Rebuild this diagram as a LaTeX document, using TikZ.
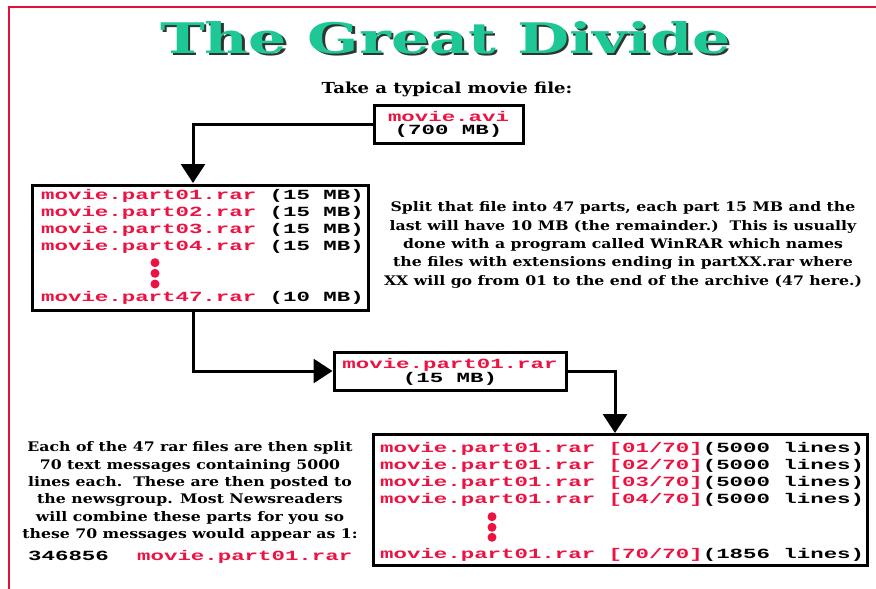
\documentclass[tikz,border=0pt]{standalone}
\usepackage{fontspec}
\usepackage{graphicx}
\usetikzlibrary{arrows.meta}
\newfontfamily\monob[UprightFont={* Bold},FakeStretch=1.6]{Liberation Mono}
\newfontfamily\serifb[UprightFont={* Bold},FakeStretch=1.19]{DejaVu Serif}
\newfontfamily\titlefont[UprightFont={* Bold}]{DejaVu Serif}
\definecolor{fred}{RGB}{236,18,66}
\definecolor{frame}{RGB}{228,16,60}
\definecolor{teal}{RGB}{30,200,150}
\definecolor{shade}{RGB}{45,55,50}
\newcommand{\titletext}{\resizebox{570pt}{32pt}{\titlefont The Great Divide}}
\tikzset{
  filebox/.style={draw=black, line width=3pt, fill=white, inner sep=0pt},
  mono/.style={font=\monob\fontsize{14}{17.3}\selectfont, inner sep=0pt},
  para/.style={font=\serifb\fontsize{13.2}{18.3}\selectfont, align=center, inner sep=0pt},
  arr/.style={line width=3pt, -{Triangle[length=19pt,width=24pt]}},
  dot/.style={circle, fill=fred, inner sep=0pt, minimum size=9pt},
}
\begin{document}
\begin{tikzpicture}[x=1pt,y=-1pt]
\useasboundingbox (0,0) rectangle (876,589);
\fill[white] (0,0) rectangle (876,589);
% red frame (top and left)
\draw[frame, line width=2pt] (9,589) -- (9,7) -- (876,7);
% title with drop shadow
\node[anchor=base west, inner sep=0pt] (title) at (160,53)
  {\rlap{\hspace{2.5pt}\raisebox{-2.5pt}{\textcolor{shade}{\titletext}}}\textcolor{teal}{\titletext}};
\node[para, anchor=base, font=\serifb\fontsize{15.2}{18}\selectfont] (take) at (447,93) {Take a typical movie file:};
% box 1
\node[filebox, minimum width=149pt, minimum height=38pt] (b1) at (448.5,124) {};
\node[mono, anchor=base, text=fred] (b1a) at (448.5,121) {movie.avi};
\node[mono, anchor=base] (b1b) at (448.5,134) {(700 MB)};
% box 2
\node[filebox, minimum width=336pt, minimum height=125pt] (b2) at (200,247.5) {};
\node[mono, anchor=base west] (b2l1) at (41,199) {\textcolor{fred}{movie.part01.rar} (15 MB)};
\node[mono, anchor=base west] (b2l2) at (41,216.3) {\textcolor{fred}{movie.part02.rar} (15 MB)};
\node[mono, anchor=base west] (b2l3) at (41,233.6) {\textcolor{fred}{movie.part03.rar} (15 MB)};
\node[mono, anchor=base west] (b2l4) at (41,250.9) {\textcolor{fred}{movie.part04.rar} (15 MB)};
\node[dot] (b2d1) at (155,262.7) {};
\node[dot] (b2d2) at (155,273.3) {};
\node[dot] (b2d3) at (155,284) {};
\node[mono, anchor=base west] (b2l5) at (41,301) {\textcolor{fred}{movie.part47.rar} (10 MB)};
% right paragraph
\node[para] (split) at (623,245) {Split that file into 47 parts, each part 15 MB and the\\
last will have 10 MB (the remainder.)\ \ This is usually\\
done with a program called WinRAR which names\\
the files with extensions ending in partXX.rar where\\
XX will go from 01 to the end of the archive (47 here.)};
% box 3
\node[filebox, minimum width=232pt, minimum height=38pt] (b3) at (450,371) {};
\node[mono, anchor=base, text=fred] (b3a) at (450,368.5) {movie.part01.rar};
\node[mono, anchor=base] (b3b) at (450,382.5) {(15 MB)};
% box 4
\node[filebox, minimum width=494pt, minimum height=131pt] (b4) at (620,499.5) {};
\node[mono, anchor=base west] (b4l1) at (380,452) {\textcolor{fred}{movie.part01.rar [01/70]}(5000 lines)};
\node[mono, anchor=base west] (b4l2) at (380,469) {\textcolor{fred}{movie.part01.rar [02/70]}(5000 lines)};
\node[mono, anchor=base west] (b4l3) at (380,486) {\textcolor{fred}{movie.part01.rar [03/70]}(5000 lines)};
\node[mono, anchor=base west] (b4l4) at (380,503) {\textcolor{fred}{movie.part01.rar [04/70]}(5000 lines)};
\node[dot] (b4d1) at (492,516.7) {};
\node[dot] (b4d2) at (492,527.3) {};
\node[dot] (b4d3) at (492,537.3) {};
\node[mono, anchor=base west] (b4l5) at (380,558) {\textcolor{fred}{movie.part01.rar [70/70]}(1856 lines)};
% left paragraph
\node[para, font=\serifb\fontsize{13.2}{17.3}\selectfont] (each) at (190,491.5) {Each of the 47 rar files are then split\\
70 text messages containing 5000\\
lines each.\ \ These are then posted to\\
the newsgroup. Most Newsreaders\\
will combine these parts for you so\\
these 70 messages would appear as 1:};
\node[mono, anchor=base west] (num) at (28,560) {346856};
\node[mono, anchor=base west, text=fred] (fname) at (137,560) {movie.part01.rar};
% connectors
\coordinate (b2in) at (193,183);
\coordinate (b2out) at (193,310);
\coordinate (b4in) at (615,433);
\draw[arr] (b1.west) -| (b2in);
\draw[arr] (b2out) |- (b3.west);
\draw[arr] (b3.east) -| (b4in);
\end{tikzpicture}
\end{document}
